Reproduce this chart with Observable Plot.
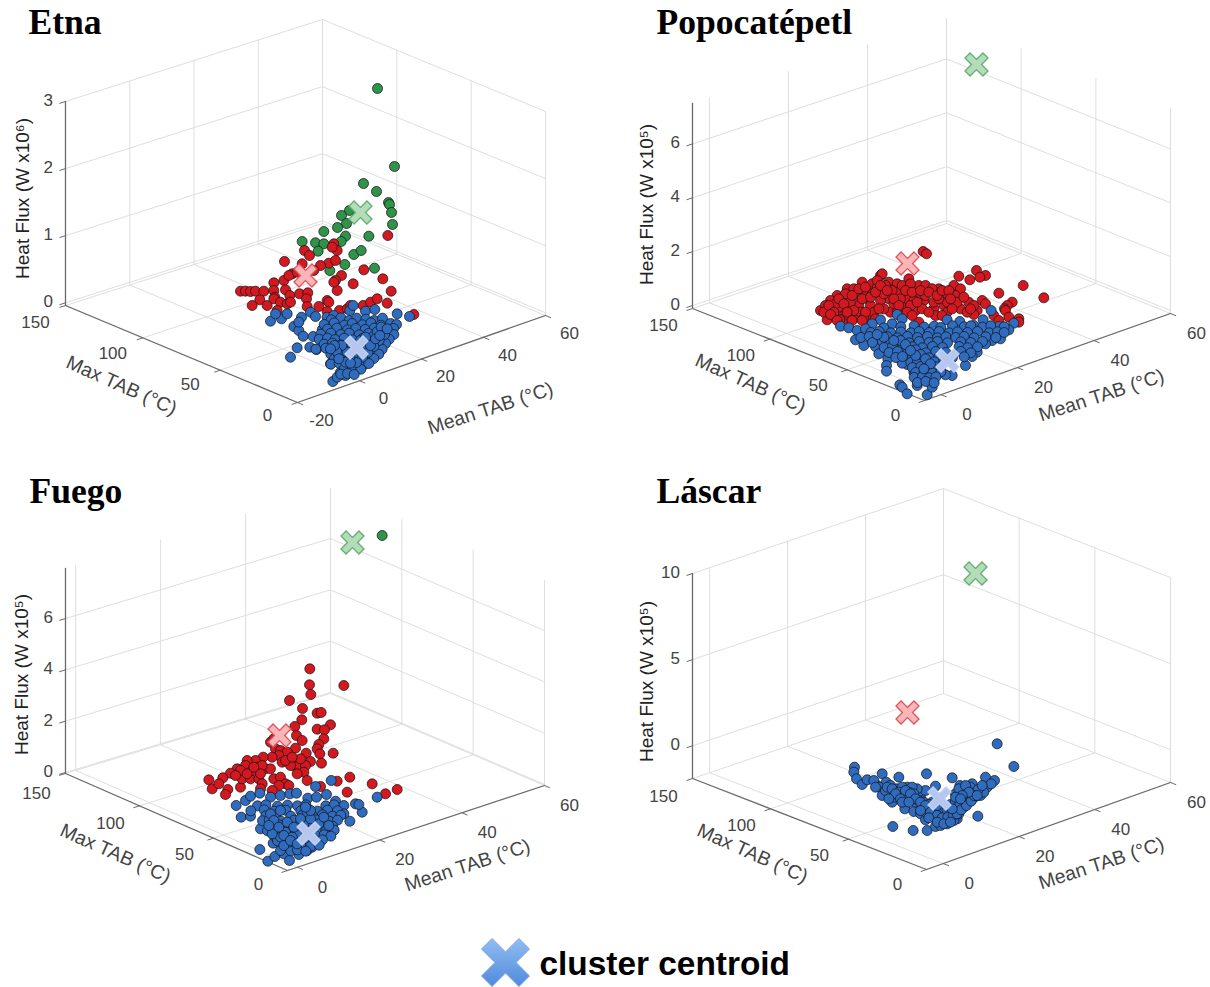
<!DOCTYPE html>
<html><head><meta charset="utf-8">
<script src="https://cdn.jsdelivr.net/npm/d3@7"></script>
<script src="https://cdn.jsdelivr.net/npm/@observablehq/plot@0.6"></script>
<style>html,body{margin:0;padding:0;background:#fff}svg{display:block}</style>
</head><body><div id="chart"></div>
<script>
// Tick values of the three axes
const meanTicksEtna = [-20, 0, 20, 40, 60];
const meanTicks = [0, 20, 40, 60];
const maxTicks = [0, 50, 100, 150];
const fluxTicksEtna = [0, 1, 2, 3];
const fluxTicksPopo = [0, 2, 4, 6];
const fluxTicksFuego = [0, 2, 4, 6];
const fluxTicksLascar = [0, 5, 10];

const etnaGreen = [[441,-426],[492,-192],[399,-141],[438,-117],[474,-84],[477,-78],[483,-54],[486,-18],[415,17],[357,-60],[333,-45],[348,-21],[321,-9],[280,3],[345,17],[215,33],[255,37],[280,40],[263,62],[332,33],[370,72],[392,60],[343,102],[298,120],[432,113]];
const etnaRed = [[472,15],[222,60],[237,75],[162,93],[215,100],[310,40],[320,60],[305,50],[295,98],[270,105],[315,90],[250,120],[185,130],[160,150],[130,157],[400,118],[457,145],[333,135],[315,150],[368,160],[320,180],[482,182],[470,218],[30,182],[45,182],[60,183],[75,182],[100,182],[130,180],[133,200],[165,178],[178,195],[207,190],[232,187],[88,208],[110,225],[65,225],[130,205],[150,215],[170,220],[180,215],[228,205],[230,228],[265,228],[290,210],[295,215],[290,243],[327,240],[350,235],[360,225],[398,225],[420,215],[440,205],[550,252],[175,135],[200,125],[310,155],[140,240]];
const etnaBlue = [[120,272],[153,265],[135,250],[170,250],[180,380],[200,352],[238,350],[258,357],[190,288],[205,300],[218,317],[248,318],[213,260],[240,245],[255,258],[205,275],[275,298],[290,260],[310,255],[358,240],[368,225],[405,242],[433,237],[500,250],[537,258],[300,400],[307,453],[320,440],[345,435],[375,415],[330,425],
[302,268],[331,262],[356,270],[379,263],[406,266],[431,270],[456,263],[281,282],[311,277],[342,284],[365,279],[396,283],[421,277],[451,284],[480,279],[498,282],[291,296],[319,293],[351,298],[376,294],[404,297],[431,293],[460,298],[489,294],[271,311],[301,308],[331,312],[356,308],[386,313],[414,309],[441,312],[470,308],[490,312],[266,326],[291,323],[314,327],[341,323],[366,328],[396,324],[426,327],[451,323],[476,326],[281,341],[306,338],[331,343],[356,339],[386,342],[411,338],[441,341],[465,339],[256,356],[286,353],[311,358],[336,354],[361,357],[386,353],[411,357],[436,354],[455,356],[301,371],[326,368],[351,373],[376,369],[401,372],[425,368],[445,371],[311,386],[336,383],[361,388],[386,384],[410,387],[430,384],[301,401],[326,398],[351,403],[376,399],[401,402],[415,399],[341,416],[366,413],[391,416],[331,431],[351,429],[371,432],
[320,350],[328,358],[336,366],[344,352],[352,362],[325,372],[340,378],[355,374],[365,345],[372,356],[380,368],[395,360],[405,346],[418,332],[428,318],[440,304],[452,290],[462,312],[446,330],[430,348],[412,366],[396,380],[378,396],
[330,360],[338,372],[345,385],[350,365],[358,380],[334,345],[318,362],[312,345],[345,395],[360,398],[325,385],[300,355],[390,330],[405,320],[420,345],[435,325],[448,315],[470,295]];

const popoRed = [[368,33],[378,40],[528,90],[555,105],[538,110],[475,107],[508,118],[668,135],[730,172],[595,158],[635,185],[620,195],[612,205],[655,235],[655,245],[240,105],[245,100],[185,125],[215,130],[140,145],[110,165],[90,180],[60,210],[80,238],[95,205],[120,180],[145,170],[170,165],[200,175],[230,140],[265,125],[290,130],[325,115],[355,135],[375,135],[415,145],[460,135],[480,145],[430,165],[465,165],[505,185],[545,180],[530,210],[480,205],[430,195],[400,205],[370,180],[345,160],[320,175],[290,155],[265,175],[240,180],[210,195],[175,195],[150,205],[125,220],[100,225],[130,235],[165,230],[205,235],[180,215],[270,215],[305,200],[345,210],[355,245],[405,225],[440,215],[520,222],[580,225],[615,210],[625,230],[595,240],[375,165],[395,145],[305,135],[250,160],[160,145],[190,150],[230,120],[340,180],[300,175],[275,150],[400,185],[440,185],[470,185],[500,215],[455,205],[125,200],[75,195],[200,155],[115,200],[145,225],[220,215],[330,130],[150,185],[135,160],[185,175],[105,190],[215,160],[255,135],[280,190],[330,195],[365,205],[415,175],[290,215],[190,232],[118,238],[160,210],
[70,215],[85,195],[100,215],[115,175],[130,190],[155,165],[175,145],[195,140],[210,170],[225,155],[240,135],[260,150],[280,175],[295,195],[315,150],[335,155],[350,185],[360,150],[385,155],[410,165],[425,150],[445,150],[450,175],[490,170],[520,195],[555,190],[510,205],[385,215],[425,225],[320,215],[250,205],[235,205],[195,215],[140,215],[90,222],[110,240],[155,240],[185,240],[225,235],[335,225]];
const popoBlue = [[120,257],[145,262],[170,270],[240,238],[290,222],[305,235],[275,250],[250,262],[215,250],[195,265],[165,298],[190,315],[225,318],[235,340],[262,355],[258,375],[258,392],[298,433],[305,440],[320,460],[380,463],[350,435],[395,440],[340,395],[320,372],[305,368],[440,238],[478,243],[520,255],[548,238],[572,210],[595,258],[640,248],[625,268],[600,295],[575,300],[555,310],[530,335],[515,348],[495,375],[455,405],[435,403],[420,380],
[301,259],[341,256],[371,260],[401,257],[421,261],[456,256],[491,259],[511,256],[546,260],[571,256],[611,259],[211,276],[236,273],[271,277],[301,274],[331,277],[356,273],[386,276],[416,273],[446,277],[471,274],[501,276],[531,273],[566,277],[591,274],[611,276],[181,291],[206,288],[236,292],[261,289],[291,292],[321,288],[351,291],[381,288],[411,292],[436,289],[466,291],[491,288],[521,292],[556,289],[586,291],[216,306],[246,303],[271,307],[301,304],[326,307],[356,303],[386,306],[411,303],[441,307],[481,304],[511,306],[546,303],[251,321],[276,318],[306,322],[336,319],[366,322],[396,318],[426,321],[476,318],[501,322],[531,319],[266,336],[291,333],[321,337],[346,334],[376,337],[406,333],[436,336],[481,333],[511,337],[286,351],[306,348],[336,352],[361,349],[386,352],[416,348],[456,351],[491,349],[331,366],[351,363],[376,367],[401,364],[431,366],[336,381],[361,378],[386,382],[406,379],[346,396],[371,393],[396,397],[421,394],[341,411],[366,408],[386,412],[406,409],[351,426],[376,423],[401,427],
[300,300],[315,312],[345,328],[360,342],[375,355],[390,370],[370,385],[345,345],[330,330],[280,300],[250,290],[230,282]];

const fuegoRed = [[358,55],[357,103],[460,105],[361,132],[297,150],[336,174],[380,188],[392,186],[334,208],[420,223],[313,228],[380,236],[402,238],[318,255],[400,265],[335,270],[385,282],[380,295],[315,293],[347,308],[428,308],[388,310],[360,333],[393,338],[240,275],[250,265],[255,295],[270,300],[290,305],[265,315],[245,320],[218,320],[195,330],[170,330],[165,345],[140,355],[120,368],[97,382],[55,388],[65,415],[85,400],[112,417],[105,432],[150,410],[155,385],[180,385],[205,385],[215,400],[250,385],[270,380],[285,400],[295,405],[265,405],[245,420],[210,415],[185,360],[200,350],[225,355],[240,355],[275,335],[310,345],[325,345],[345,345],[340,365],[350,390],[320,370],[300,345],[215,345],[150,360],[170,370],[135,375],[478,380],[440,392],[470,425],[545,400],[585,430],[620,417],[390,408],[285,330],[330,325],[305,320],[210,370],[190,350]];
const fuegoBlue = [[422,390],[375,408],[560,440],[515,485],[495,460],[505,462],[478,512],[152,500],[180,497],[137,465],[165,450],[180,437],[208,428],[240,440],[270,435],[298,430],[318,428],[352,443],[378,440],[408,432],[435,452],[460,465],[460,490],[440,505],[420,490],[210,535],[208,597],[232,632],[253,618],[280,610],[297,630],[325,612],[350,600],[365,590],[248,578],[270,600],[290,585],
[201,466],[226,463],[261,467],[291,464],[321,466],[346,463],[406,466],[431,463],[181,481],[221,478],[251,482],[286,479],[331,481],[356,478],[381,482],[411,479],[441,481],[226,496],[256,493],[301,497],[341,494],[366,496],[396,493],[426,497],[451,494],[216,511],[236,508],[271,512],[311,509],[346,511],[376,508],[416,512],[441,509],[241,526],[266,523],[296,527],[326,524],[356,526],[396,523],[426,527],[231,541],[256,538],[281,542],[306,539],[331,541],[381,538],[406,542],[431,539],[251,556],[276,553],[296,557],[321,554],[376,556],[401,553],[421,557],[261,571],[286,568],[311,572],[341,569],[376,571],[396,568],[306,586],[331,583],[361,587],[386,584],[301,601],[321,598],[346,602],
[285,545],[270,560],[295,575],[280,585],[305,560],[335,495],[350,485],
[240,490],[250,510],[265,530],[290,515],[310,530],[280,555],[300,570],[320,580],[245,550],[340,520],[330,505],[360,505],[385,520],[400,500],[415,525],[270,480],[235,525],[360,480],[345,470]];

const lascarBlue = [[470,40],[520,108],[42,110],[40,125],[48,145],[65,162],[80,148],[110,165],[100,150],[125,130],[137,155],[117,170],[175,140],[150,165],[125,195],[155,215],[193,235],[220,243],[258,130],[285,167],[335,142],[435,140],[462,150],[395,160],[358,165],[412,257],[157,288],[218,300],[260,300],[285,288],
[170,175],[190,185],[200,170],[215,180],[225,195],[200,205],[175,200],[150,190],[240,200],[250,215],[225,215],[190,195],[160,180],[210,195],[235,185],[255,180],[275,215],[265,235],[240,250],[255,268],[275,255],[300,270],[315,255],[335,245],[350,235],[330,222],[345,190],[370,185],[390,170],[405,185],[420,175],[440,170],[385,205],[365,215],[345,215],[300,245],[320,280],[300,285],[330,265],[285,240],[310,235],[350,265],[260,250],[245,230],[215,205],[185,170],[135,180],[105,170],[375,195],[395,190],[420,195],[430,185],[355,175],[375,165],[370,230],[355,250],[340,270],[320,240],[230,175],[200,190],[180,190],[160,200],[215,170],[205,185],[220,190],[195,200],[235,210],[265,222],[285,262],[312,268],[328,252],[358,222],[380,218],[402,200],[412,178],[452,160],
[140,170],[155,175],[175,185],[195,180],[210,190],[225,205],[240,215],[255,225],[270,245],[290,255],[305,262],[322,260],[338,255],[350,250],[362,238],[378,225],[392,212],[400,195],[385,185],[365,195],[410,195],[425,165],[290,225],[165,190],[180,205],[145,205],[185,215],[205,215],[240,240],[265,262],[290,275],[310,280],[330,275],[335,235],[345,200],[360,205]];

// Centroids
const etnaCentroids = [[360,212,"g"],[305,275,"r"],[356,347,"b"]];
const popoCentroids = [[976,64,"g"],[907,263,"r"],[947,360,"b"]];
const fuegoCentroids = [[352,542,"g"],[279,735,"r"],[308,833,"b"]];
const lascarCentroids = [[975,573,"g"],[907,712,"r"],[939,798,"b"]];

// 3-D view of each panel
const panels = [
  {name:"Etna", title:[28,22], meanDomain:[-20,60], fluxDomain:[-0.04,3], meanTicks:meanTicksEtna, fluxTicks:fluxTicksEtna, unit:"Heat Flux (W x10⁶)",
   F:[297,402],L:[65,305],R:[545,315],B:[322,223],H:204, maxOff:[-30,13,17], meanOff:[24,18],
   read:{x0:230,y0:230}, green:etnaGreen, red:etnaRed, blue:etnaBlue, centroids:etnaCentroids,
   zT:[22,198], maxT:[121,385], meanT:[490,408]},
  {name:"Popocatépetl", title:[656,22], meanDomain:[-4.3,60], fluxDomain:[-0.11,7.5], meanTicks, fluxTicks:fluxTicksPopo, unit:"Heat Flux (W x10⁵)",
   F:[924,400],L:[692,308],R:[1170,313],B:[946,223],H:205, maxOff:[-29,15,17], meanOff:[26,20],
   read:{x0:800,y0:240}, green:[], red:popoRed, blue:popoBlue, centroids:popoCentroids,
   zT:[646,204], maxT:[750,383], meanT:[1101,395]},
  {name:"Fuego", title:[29,491], meanDomain:[-2.4,60], fluxDomain:[-0.04,7.95], meanTicks, fluxTicks:fluxTicksFuego, unit:"Heat Flux (W x10⁵)",
   F:[287,870],L:[65,773],R:[544,785],B:[330,693],H:205, maxOff:[-29,14,20], meanOff:[25,20],
   read:{x0:190,y0:650}, green:[[575,-345]], red:fuegoRed, blue:fuegoBlue, centroids:fuegoCentroids,
   zT:[21,674], maxT:[115,853], meanT:[467,865]},
  {name:"Láscar", title:[656,491], meanDomain:[-4.4,60], fluxDomain:[-1.9,10], meanTicks, fluxTicks:fluxTicksLascar, unit:"Heat Flux (W x10⁵)",
   F:[926,869],L:[692,778],R:[1170,782],B:[943,693],H:205, maxOff:[-29,15,18], meanOff:[26,20],
   read:{x0:840,y0:730}, green:[], red:[], blue:lascarBlue, centroids:lascarCentroids,
   zT:[646,681], maxT:[752,853], meanT:[1101,863]}
];

const colors = {g:"#2f9449", r:"#d5181f", b:"#2f6cc0"};
const centroidFill = {g:"#b4dcb8", r:"#f8b6b9", b:"#b5c7ef"};
const centroidStroke = {g:"#62b073", r:"#e2535c", b:"#c4d2f2"};

function projector(p){
  const [m0,m1]=p.meanDomain, [f0,f1]=p.fluxDomain;
  return (mean,max,flux)=>{
    const u=(mean-m0)/(m1-m0), v=max/150, w=(flux-f0)/(f1-f0);
    const bi=i=>(1-u)*(1-v)*p.F[i]+u*(1-v)*p.R[i]+(1-u)*v*p.L[i]+u*v*p.B[i];
    return [bi(0), bi(1)-p.H*w];
  };
}

const grid=[], axes=[], ticks=[], tickLabels=[], titles=[], zTitles=[], maxTitles=[], meanTitles=[], dots=[], centroids=[];
let id=0;
const seg=(arr,a,b)=>{id++;arr.push({x:a[0],y:a[1],id},{x:b[0],y:b[1],id});};
for(const p of panels){
  const P=projector(p), [m0,m1]=p.meanDomain, [f0,f1]=p.fluxDomain;
  for(const m of p.meanTicks){
    seg(grid,P(m,0,f0),P(m,150,f0));
    seg(grid,P(m,150,f0),P(m,150,f1));
  }
  for(const a of maxTicks){
    seg(grid,P(m0,a,f0),P(m1,a,f0));
    seg(grid,P(m1,a,f0),P(m1,a,f1));
  }
  for(const f of p.fluxTicks){
    seg(grid,P(m0,150,f),P(m1,150,f));
    seg(grid,P(m1,150,f),P(m1,0,f));
  }
  seg(axes,P(m0,150,f0),P(m0,0,f0));
  seg(axes,P(m0,0,f0),P(m1,0,f0));
  seg(axes,P(m0,150,f0),P(m0,150,f1));
  const dm=(m1-m0)*0.022;
  for(const a of maxTicks){
    seg(ticks,P(m0,a,f0),P(m0-dm,a,f0));
    const q=P(m0,a,f0);
    const dy=p.maxOff[1]+(p.maxOff[2]-p.maxOff[1])*a/150;
    tickLabels.push({x:q[0]+p.maxOff[0],y:q[1]+dy,t:String(a)});
  }
  for(const m of p.meanTicks){
    seg(ticks,P(m,0,f0),P(m,-3.5,f0));
    const q=P(m,0,f0); tickLabels.push({x:q[0]+p.meanOff[0],y:q[1]+p.meanOff[1],t:String(m)});
  }
  for(const f of p.fluxTicks){
    seg(ticks,P(m0,150,f),P(m0-dm,150,f));
  }
  p.zLab=p.fluxTicks.map(f=>{const q=P(m0,150,f);return {x:q[0]-12.5,y:q[1]-1,t:String(f)};});
  titles.push({x:p.title[0],y:p.title[1],t:p.name});
  zTitles.push({x:p.zT[0],y:p.zT[1],t:p.unit});
  maxTitles.push({x:p.maxT[0],y:p.maxT[1],t:"Max TAB (°C)"});
  meanTitles.push({x:p.meanT[0],y:p.meanT[1],t:"Mean TAB (°C)"});
  for(const [key,arr] of [["g",p.green],["r",p.red],["b",p.blue]])
    for(const [a,b] of arr) dots.push({x:p.read.x0+a/3,y:p.read.y0+b/3,c:key});
  for(const [x,y,c] of p.centroids) centroids.push({x,y,c});
}
const zLabels=panels.flatMap(p=>p.zLab);

const cross={draw(ctx,size){
  const r=Math.sqrt(size/Math.PI), a=r*0.44, b=r-a;
  const v=[[0,-a],[b,-r],[r,-b],[a,0],[r,b],[b,r],[0,a],[-b,r],[-r,b],[-a,0],[-r,-b],[-b,-r]];
  ctx.moveTo(v[0][0],v[0][1]);
  for(let i=1;i<v.length;i++) ctx.lineTo(v[i][0],v[i][1]);
  ctx.closePath();
}};

const legendSym=[{x:505,y:962}], legendText=[{x:539,y:964,t:"cluster centroid"}];
const sans="'Liberation Sans',Arial,sans-serif", serif="'Liberation Serif','Times New Roman',serif";

const defs=()=>{
  const d=d3.create("svg:defs");
  const g=d.append("linearGradient").attr("id","legendFill").attr("x1","0").attr("y1","0").attr("x2","0").attr("y2","1");
  g.append("stop").attr("offset","0").attr("stop-color","#93bdf3");
  g.append("stop").attr("offset","1").attr("stop-color","#4f8adb");
  return d.node();
};

const chart=Plot.plot({
  width:1210,height:987,margin:0,
  x:{domain:[0,1210],range:[0,1210],axis:null},
  y:{domain:[0,987],range:[0,987],axis:null},
  style:{fontFamily:sans,background:"#fff"},
  marks:[
    defs,
    Plot.line(grid,{x:"x",y:"y",z:"id",stroke:"#dedede",strokeWidth:1}),
    Plot.line(axes,{x:"x",y:"y",z:"id",stroke:"#6a6a6a",strokeWidth:1.3}),
    Plot.line(ticks,{x:"x",y:"y",z:"id",stroke:"#6a6a6a",strokeWidth:1}),
    Plot.dot(dots,{x:"x",y:"y",r:5,fill:d=>colors[d.c],stroke:"#161616",strokeWidth:0.9,strokeOpacity:0.85}),
    Plot.dot(centroids,{x:"x",y:"y",r:11.5,symbol:cross,fill:d=>centroidFill[d.c],stroke:d=>centroidStroke[d.c],strokeWidth:1.3}),
    Plot.text(tickLabels,{x:"x",y:"y",text:"t",fontSize:17,fill:"#444"}),
    Plot.text(zLabels,{x:"x",y:"y",text:"t",fontSize:17,fill:"#444",textAnchor:"end"}),
    Plot.text(zTitles,{x:"x",y:"y",text:"t",fontSize:19,fill:"#222",rotate:-90}),
    Plot.text(maxTitles,{x:"x",y:"y",text:"t",fontSize:19.5,fill:"#444",rotate:24}),
    Plot.text(meanTitles,{x:"x",y:"y",text:"t",fontSize:19.5,fill:"#444",rotate:-18}),
    Plot.text(titles,{x:"x",y:"y",text:"t",fontSize:35.6,fontWeight:"bold",fontFamily:serif,fill:"#000",textAnchor:"start"}),
    Plot.dot(legendSym,{x:"x",y:"y",r:24,symbol:cross,fill:"url(#legendFill)",stroke:"#7aa6e4",strokeWidth:1}),
    Plot.text(legendText,{x:"x",y:"y",text:"t",fontSize:33.4,fontWeight:"bold",fill:"#000",textAnchor:"start"})
  ]
});
document.getElementById("chart").append(chart);
</script></body></html>
